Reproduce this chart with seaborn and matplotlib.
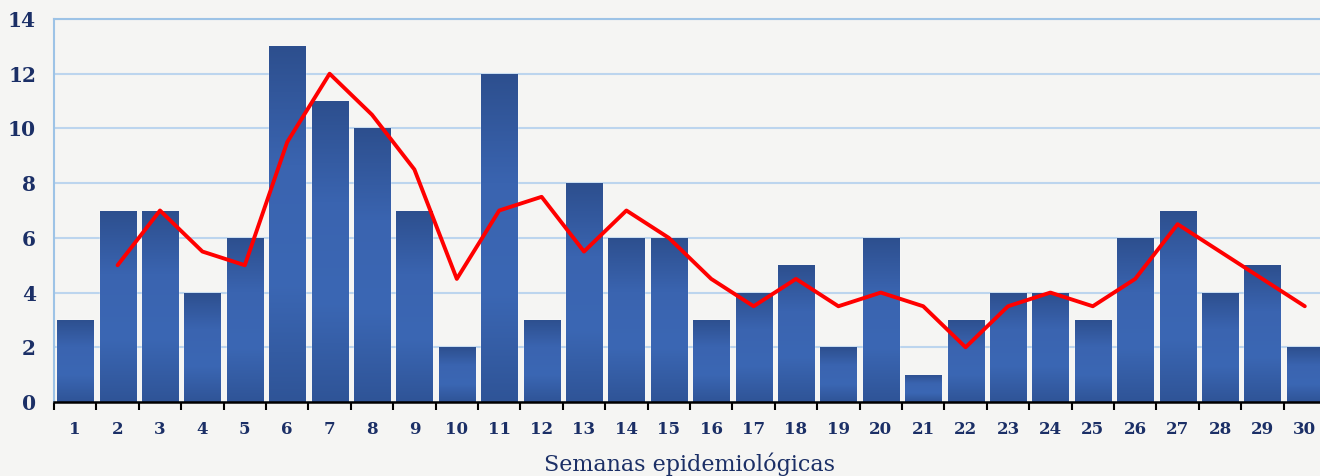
import numpy as np
import pandas as pd
import matplotlib
matplotlib.use("Agg")
import matplotlib.pyplot as plt
import seaborn as sns

BG_COLOR   = "#f5f5f3"
NAVY       = "#1b2f66"
GRID_COLOR = "#bcd5ee"
LINE_RED   = "#ff0000"

weeks = [str(w) for w in range(1, 31)]
cases = [3, 7, 7, 4, 6, 13, 11, 10, 7, 2, 12, 3, 8, 6, 6,
         3, 4, 5, 2, 6, 1, 3, 4, 4, 3, 6, 7, 4, 5, 2]
# red line (moving average), starts at week 2
line_weeks = [str(w) for w in range(2, 31)]
line_vals  = [5, 7, 5.5, 5, 9.5, 12, 10.5, 8.5, 4.5, 7, 7.5, 5.5, 7, 6,
              4.5, 3.5, 4.5, 3.5, 4, 3.5, 2, 3.5, 4, 3.5, 4.5, 6.5, 5.5, 4.5, 3.5]
yticks = [0, 2, 4, 6, 8, 10, 12, 14]
xlabel = "Semanas epidemiológicas"

sns.set_theme(style="white")
plt.rcParams["font.family"] = ["DejaVu Serif"]

df_bars = pd.DataFrame({"semana": weeks, "casos": cases})
df_line = pd.DataFrame({"pos": [weeks.index(w) for w in line_weeks], "valor": line_vals})

fig = plt.figure(figsize=(13.2, 4.76), dpi=100, facecolor=BG_COLOR)
ax = fig.add_axes([54 / 1320, 74 / 476, 1272 / 1320, 383 / 476])
ax.set_facecolor(BG_COLOR)

sns.barplot(data=df_bars, x="semana", y="casos", color="#2f5597",
            width=0.85, saturation=1, ax=ax, zorder=2)

# vertical gradient inside each bar: dark at top and bottom, lighter in middle
grad_cmap = matplotlib.colors.LinearSegmentedColormap.from_list(
    "bar", ["#2d4f8e", "#3a64b0", "#3b67b4", "#2f5497"])
grad = np.linspace(0, 1, 256).reshape(-1, 1)
for p in ax.patches:
    x0, w = p.get_x(), p.get_width()
    h = p.get_height()
    im = ax.imshow(grad, cmap=grad_cmap, aspect="auto",
                   extent=[x0, x0 + w, 0, h], origin="upper", zorder=2.5)
    im.set_clip_path(p)

sns.lineplot(data=df_line, x="pos", y="valor", color=LINE_RED, lw=2.8,
             ax=ax, zorder=4)

ax.set_xlim(-0.5, 29.5)
ax.set_ylim(0, 14)
ax.set_yticks(yticks)
ax.set_yticklabels([str(v) for v in yticks], fontsize=14.5,
                   fontweight="bold", color=NAVY)
ax.yaxis.grid(True, color=GRID_COLOR, lw=1.5, zorder=1)
ax.set_axisbelow(True)

ax.set_xticks(np.arange(30) - 0.5)
ax.set_xticklabels([])
ax.set_xticks(np.arange(30), minor=True)
ax.set_xticklabels(weeks, minor=True, fontsize=12, fontweight="bold", color=NAVY)
ax.tick_params(axis="x", which="major", direction="out", length=6, width=1.5,
               color="black", bottom=True)
ax.tick_params(axis="x", which="minor", length=0, pad=14)
ax.tick_params(axis="y", length=0, pad=13)

for s in ["top", "left", "right"]:
    ax.spines[s].set_color("#9dc3e6")
    ax.spines[s].set_linewidth(1.5)
ax.spines["bottom"].set_color("black")
ax.spines["bottom"].set_linewidth(1.8)
ax.spines["bottom"].set_zorder(5)

ax.set_ylabel("")
ax.set_xlabel(xlabel, fontsize=16, color=NAVY, labelpad=10)

fig.savefig("out.png", dpi=100, facecolor=BG_COLOR)
